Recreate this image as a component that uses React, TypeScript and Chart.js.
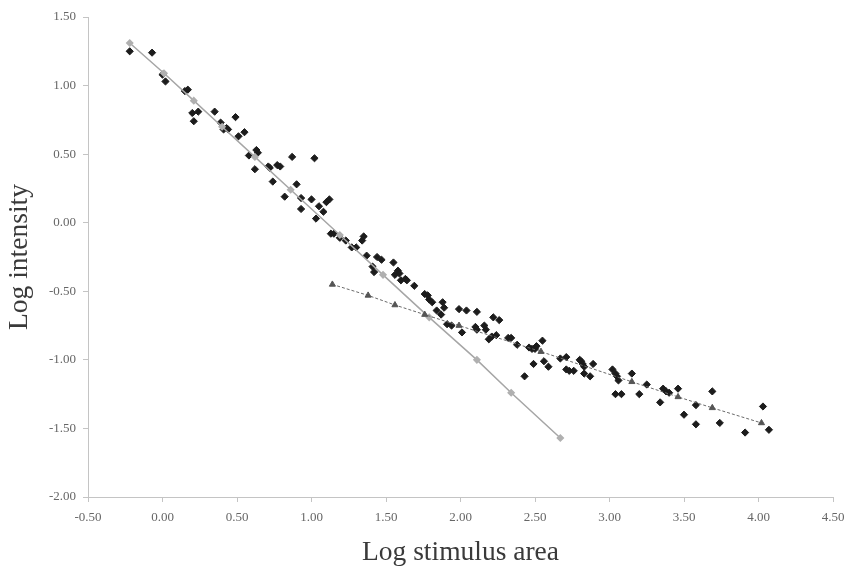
import React, { useEffect, useRef } from "react";
import { Chart, registerables } from "chart.js";

Chart.register(...registerables);

// Observed data points (log stimulus area, log intensity)
const obsX = [
  -0.22, -0.07, 0.0, 0.02, 0.15, 0.17, 0.2, 0.24, 0.21, 0.35, 0.39, 0.49, 0.41, 0.43, 0.44, 0.55, 0.51, 0.58, 0.63, 0.64,
  0.62, 0.71, 0.72, 0.77, 0.79, 0.87, 1.02, 0.74, 0.9, 0.82, 0.93, 1.0, 0.93, 1.05, 1.1, 1.12, 1.08, 1.03, 1.13, 1.15,
  1.19, 1.23, 1.27, 1.3, 1.34, 1.35, 1.37, 1.44, 1.41, 1.42, 1.47, 1.55, 1.56, 1.58, 1.59, 1.6, 1.63, 1.64, 1.69, 1.76,
  1.78, 1.79, 1.81, 1.84, 1.88, 1.89, 1.87, 1.99, 2.04, 2.11, 1.91, 1.94, 2.01, 2.1, 2.11, 2.16, 2.17, 2.19, 2.22, 2.26,
  2.21, 2.24, 2.32, 2.34, 2.38, 2.46, 2.48, 2.5, 2.51, 2.55, 2.49, 2.56, 2.59, 2.43, 2.67, 2.71, 2.71, 2.73, 2.76, 2.8,
  2.81, 2.82, 2.83, 2.89, 2.83, 2.87, 3.02, 3.04, 3.05, 3.06, 3.04, 3.08, 3.15, 3.2, 3.25, 3.36, 3.38, 3.4, 3.46, 3.34,
  3.5, 3.58, 3.58, 3.69, 3.74, 3.91, 4.03, 4.07,
];
const obsY = [
  1.25, 1.24, 1.08, 1.03, 0.96, 0.97, 0.8, 0.81, 0.74, 0.81, 0.73, 0.77, 0.68, 0.69, 0.68, 0.66, 0.63, 0.49, 0.53, 0.51,
  0.39, 0.41, 0.4, 0.42, 0.41, 0.48, 0.47, 0.3, 0.28, 0.19, 0.18, 0.17, 0.1, 0.12, 0.15, 0.17, 0.08, 0.03, -0.08, -0.08,
  -0.11, -0.13, -0.18, -0.18, -0.13, -0.1, -0.24, -0.25, -0.32, -0.36, -0.27, -0.29, -0.38, -0.35, -0.37, -0.42, -0.41, -0.42, -0.46, -0.52,
  -0.53, -0.56, -0.58, -0.64, -0.58, -0.62, -0.67, -0.63, -0.64, -0.65, -0.74, -0.75, -0.8, -0.76, -0.78, -0.75, -0.78, -0.85, -0.69, -0.71,
  -0.83, -0.82, -0.84, -0.84, -0.89, -0.91, -0.92, -0.92, -0.9, -0.86, -1.03, -1.01, -1.05, -1.12, -0.99, -0.98, -1.07, -1.08, -1.08, -1.0,
  -1.01, -1.03, -1.05, -1.03, -1.1, -1.12, -1.07, -1.1, -1.12, -1.15, -1.25, -1.25, -1.1, -1.25, -1.18, -1.21, -1.23, -1.24, -1.21, -1.31,
  -1.4, -1.33, -1.47, -1.23, -1.46, -1.53, -1.34, -1.51,
];

// Steep fitted line (grey diamonds)
const fit1X = [-0.22, 0.01, 0.21, 0.4, 0.62, 0.86, 1.19, 1.48, 1.79, 2.11, 2.34, 2.67];
const fit1Y = [1.31, 1.09, 0.89, 0.7, 0.48, 0.24, -0.09, -0.38, -0.69, -1.0, -1.24, -1.57];

// Shallow fitted line (triangles, dashed)
const fit2X = [1.14, 1.38, 1.56, 1.76, 1.99, 2.54, 3.15, 3.46, 3.69, 4.02];
const fit2Y = [-0.45, -0.53, -0.6, -0.67, -0.75, -0.94, -1.16, -1.27, -1.35, -1.46];

const xTitle = "Log stimulus area";
const yTitle = "Log intensity";

const pts = (xs: number[], ys: number[]) => xs.map((x, i) => ({ x, y: ys[i] }));

export default function App() {
  const ref = useRef<HTMLCanvasElement | null>(null);

  useEffect(() => {
    if (!ref.current) return;
    const tickFont = { family: "'Liberation Serif', 'DejaVu Serif', serif", size: 13 };
    const titleFont = { family: "'Liberation Serif', 'DejaVu Serif', serif", size: 27.5 };
    const chart = new Chart(ref.current, {
      type: "scatter",
      data: {
        datasets: [
          {
            label: "fit2",
            data: pts(fit2X, fit2Y),
            showLine: true,
            borderColor: "#6a6a6a",
            borderWidth: 1,
            borderDash: [3, 2],
            pointStyle: "triangle",
            pointRadius: 3.5,
            pointBackgroundColor: "#555555",
            pointBorderColor: "#555555",
            pointBorderWidth: 1,
            order: 1,
          },
          {
            label: "fit1",
            data: pts(fit1X, fit1Y),
            showLine: true,
            borderColor: "#a6a6a6",
            borderWidth: 1.5,
            pointStyle: "rectRot",
            pointRadius: 3,
            pointBackgroundColor: "#b0b0b0",
            pointBorderColor: "#b0b0b0",
            order: 2,
          },
          {
            label: "obs",
            data: pts(obsX, obsY),
            showLine: false,
            pointStyle: "rectRot",
            pointRadius: 3.6,
            pointBackgroundColor: "#1c1c1c",
            pointBorderColor: "#1c1c1c",
            pointBorderWidth: 1,
            order: 3,
          },
        ],
      },
      options: {
        responsive: false,
        animation: false,
        devicePixelRatio: 1,
        layout: { padding: { top: 17, right: 16, left: 0, bottom: 0 } },
        plugins: { legend: { display: false }, tooltip: { enabled: false } },
        scales: {
          x: {
            type: "linear",
            min: -0.5,
            max: 4.5,
            afterFit: (s: any) => {
              s.height = 77;
              s.paddingLeft = 0;
              s.paddingRight = 0;
            },
            ticks: {
              stepSize: 0.5,
              callback: (v: any) => Number(v).toFixed(2),
              font: tickFont,
              color: "#666666",
              padding: 8,
              maxRotation: 0,
            },
            grid: { drawOnChartArea: false, color: "#c4c4c4", tickLength: 5 },
            border: { color: "#c4c4c4" },
            title: {
              display: true,
              text: xTitle,
              font: titleFont,
              color: "#3a3a3a",
              padding: { top: 0, bottom: 5 },
            },
          },
          y: {
            type: "linear",
            min: -2,
            max: 1.5,
            afterFit: (s: any) => {
              s.width = 88;
            },
            ticks: {
              stepSize: 0.5,
              callback: (v: any) => Number(v).toFixed(2),
              font: tickFont,
              color: "#666666",
              padding: 7,
            },
            grid: { drawOnChartArea: false, color: "#c4c4c4", tickLength: 5 },
            border: { color: "#c4c4c4" },
            title: {
              display: true,
              text: yTitle,
              font: titleFont,
              color: "#3a3a3a",
              padding: { top: 3, bottom: 0 },
            },
          },
        },
      },
    } as any);
    return () => chart.destroy();
  }, []);

  return (
    <div style={{ position: "absolute", left: 0, top: 0, width: 849, height: 574, background: "#ffffff" }}>
      <canvas ref={ref} width={849} height={574} style={{ width: 849, height: 574, display: "block" }} />
    </div>
  );
}
